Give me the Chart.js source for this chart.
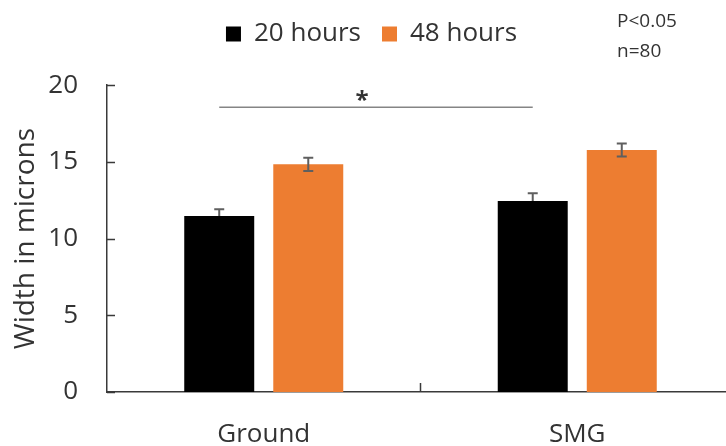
<!DOCTYPE html>
<html lang="en">
<head>
  <meta charset="UTF-8" />
  <title>Width in microns</title>
  <script src="https://cdn.jsdelivr.net/npm/chart.js"></script>
  <style>
    html, body { margin: 0; padding: 0; background: #fff; overflow: hidden; }
    .wrap { width: 743px; height: 446px; }
  </style>
</head>
<body>
  <div class="wrap"><canvas id="chart"></canvas></div>

  <script>
    const categories = ['Ground', 'SMG'];
    const hours20 = [11.48, 12.45];
    const hours48 = [14.84, 15.78];
    const err20 = [0.43, 0.5];
    const err48 = [0.43, 0.42];
    const yTicks = [0, 5, 10, 15, 20];
    const sigLevel = 18.57;

    const font = "'Open Sans', sans-serif";
    const textColor = '#333';
    const axisColor = '#3a3a3a';

    function drawErrors(chart, d, errs) {
      const ctx = chart.ctx;
      const y = chart.scales.y;
      const vals = chart.data.datasets[d].data;
      ctx.save();
      ctx.strokeStyle = '#5f5f5f';
      ctx.lineWidth = 2;
      chart.getDatasetMeta(d).data.forEach((bar, i) => {
        const top = y.getPixelForValue(vals[i] + errs[i]);
        const bot = y.getPixelForValue(vals[i] - errs[i]);
        ctx.beginPath();
        ctx.moveTo(bar.x, top); ctx.lineTo(bar.x, bot);
        ctx.moveTo(bar.x - 5, top); ctx.lineTo(bar.x + 5, top);
        ctx.moveTo(bar.x - 5, bot); ctx.lineTo(bar.x + 5, bot);
        ctx.stroke();
      });
      ctx.restore();
    }

    // error bars, inward tick marks, significance line and the note
    const extras = {
      id: 'extras',
      beforeDatasetsDraw(chart) {
        // the black bars hide the lower half of their error bars
        drawErrors(chart, 0, err20);
      },
      afterDatasetsDraw(chart) {
        const ctx = chart.ctx;
        const y = chart.scales.y;
        const x = chart.scales.x;
        const area = chart.chartArea;

        drawErrors(chart, 1, err48);

        ctx.save();
        // ticks pointing into the plot
        ctx.strokeStyle = axisColor;
        ctx.lineWidth = 1.5;
        ctx.beginPath();
        yTicks.forEach(v => {
          const py = Math.round(y.getPixelForValue(v)) + 0.5;
          ctx.moveTo(area.left, py); ctx.lineTo(area.left + 8, py);
        });
        const sep = x.getPixelForValue(0.5);
        ctx.moveTo(sep, area.bottom); ctx.lineTo(sep, area.bottom - 9);
        ctx.stroke();

        // significance bar between the two 20 hour bars
        const m0 = chart.getDatasetMeta(0).data;
        const sy = y.getPixelForValue(sigLevel);
        ctx.strokeStyle = '#858585';
        ctx.lineWidth = 1.5;
        ctx.beginPath();
        ctx.moveTo(m0[0].x, sy); ctx.lineTo(m0[1].x, sy);
        ctx.stroke();
        ctx.fillStyle = '#333';
        ctx.font = "bold 24px " + font;
        ctx.textAlign = 'center';
        ctx.textBaseline = 'middle';
        ctx.fillText('*', (m0[0].x + m0[1].x) / 2 - 14, sy - 6);

        ctx.font = "19px " + font;
        ctx.textAlign = 'left';
        ctx.textBaseline = 'alphabetic';
        ctx.fillText('P<0.05', 617, 27);
        ctx.fillText('n=80', 617, 57);
        ctx.restore();
      }
    };

    new Chart(document.getElementById('chart'), {
      type: 'bar',
      data: {
        labels: categories,
        datasets: [
          {
            label: '20 hours',
            data: hours20,
            backgroundColor: '#000000',
            borderWidth: 0,
            barPercentage: 0.786,
            categoryPercentage: 0.568
          },
          {
            label: '48 hours',
            data: hours48,
            backgroundColor: '#ED7D31',
            borderWidth: 0,
            barPercentage: 0.786,
            categoryPercentage: 0.568
          }
        ]
      },
      options: {
        responsive: true,
        maintainAspectRatio: false,
        animation: false,
        layout: { padding: { left: 9, right: 9, top: 0 } },
        plugins: {
          legend: {
            position: 'top',
            labels: {
              color: textColor,
              font: { family: font, size: 26 },
              boxWidth: 15,
              boxHeight: 15,
              padding: 21
            }
          },
          // empty spacer between legend and plot
          subtitle: {
            display: true,
            text: '',
            position: 'top',
            weight: 500,
            font: { size: 1 },
            padding: { top: 0, bottom: 27 }
          },
          tooltip: { enabled: false }
        },
        scales: {
          x: {
            afterFit: s => { s.height = 54; },
            grid: { display: false },
            border: { color: axisColor, width: 1.5 },
            ticks: { color: textColor, font: { family: font, size: 26 }, padding: 19 }
          },
          y: {
            min: 0,
            max: 20,
            afterFit: s => { s.width = 98; },
            afterBuildTicks: s => { s.ticks = yTicks.map(v => ({ value: v })); },
            grid: { display: false },
            border: { color: axisColor, width: 1.5 },
            ticks: { color: textColor, font: { family: font, size: 26 }, padding: 21 },
            title: {
              display: true,
              text: 'Width in microns',
              color: textColor,
              font: { family: font, size: 28 },
              padding: { top: 0, bottom: 0 }
            }
          }
        }
      },
      plugins: [extras]
    });
  </script>
</body>
</html>
